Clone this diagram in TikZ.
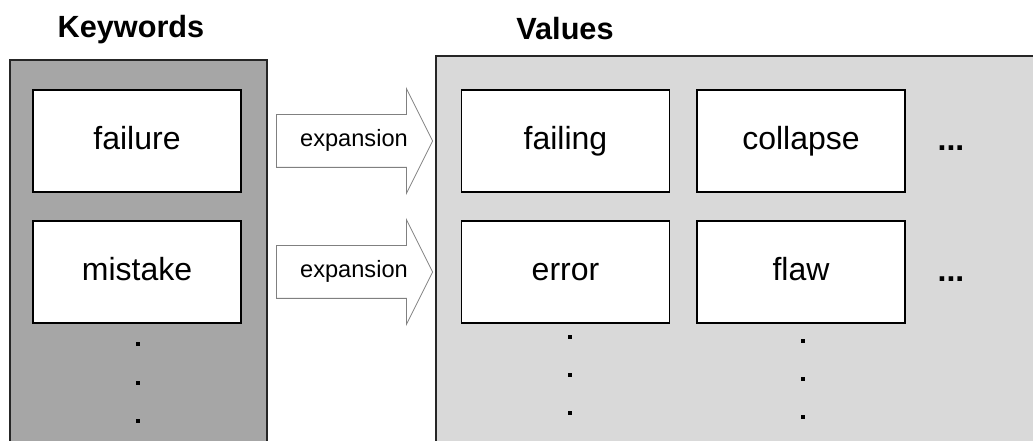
\documentclass[tikz,border=0pt]{standalone}
\usepackage{fontspec}
\setmainfont{Liberation Sans}
\usetikzlibrary{shapes.arrows}
\definecolor{kwfill}{HTML}{A6A6A6}
\definecolor{valfill}{HTML}{D9D9D9}
\tikzset{
  panel/.style={draw=black!85,line width=1.4pt},
  word/.style={draw,fill=white,line width=1.4pt,minimum width=156pt,minimum height=76.5pt,
    inner sep=0pt,text height=17.5pt,text depth=4pt,font=\fontsize{24}{28}\selectfont},
  title/.style={font=\fontsize{23}{27}\selectfont\bfseries},
  expand/.style={single arrow,draw=black!50,fill=white,line width=0.6pt,
    minimum height=117pt,single arrow head extend=19.5pt,single arrow tip angle=127,
    inner xsep=2pt,inner ysep=11pt,text height=13pt,text depth=4pt,
    font=\fontsize{17.7}{20}\selectfont},
}
\begin{document}
\begin{tikzpicture}[x=0.75pt,y=-0.75pt]
    \useasboundingbox (0,0) rectangle (1033,441);
    \clip (0,0) rectangle (1033,441);
    \path (137,141) coordinate (K1)
    (137,272) coordinate (K2)
    (565.5,141) coordinate (V11)
    (801,141) coordinate (V12)
    (565.5,272) coordinate (V21)
    (801,272) coordinate (V22)
    (348,141) coordinate (E1)
    (348,272) coordinate (E2);
    % panels
    \draw[panel,fill=kwfill] (10,60) rectangle (267,460);
    \draw[panel,fill=valfill] (436,56) rectangle (1045,460);
    \node[title,anchor=base] (kwtitle) at (131,38) {Keywords};
    \node[title,anchor=base] (valtitle) at (565,40) {Values};
    % boxes
    \node[word] (failure) at (K1) {failure};
    \node[word] (mistake) at (K2) {mistake};
    \node[word] (failing) at (V11) {failing};
    \node[word] (collapse) at (V12) {collapse};
    \node[word] (error) at (V21) {error};
    \node[word] (flaw) at (V22) {flaw};
    \node[expand] (expA) at (E1) {\hspace*{9pt}expansion};
    \node[expand] (expB) at (E2) {\hspace*{9pt}expansion};
    \node[anchor=base,font=\fontsize{24}{28}\selectfont\bfseries] (moreA) at (951,151) {...};
    \node[anchor=base,font=\fontsize{24}{28}\selectfont\bfseries] (moreB) at (951,282) {...};
    % vertical dots
    \foreach \x/\y in {138/344,138/383,138/421,570/337,570/375,570/413,803/341,803/379,803/417}{
        \fill (\x-2,\y-2) rectangle ++(4,4);
    }
\end{tikzpicture}
\end{document}
